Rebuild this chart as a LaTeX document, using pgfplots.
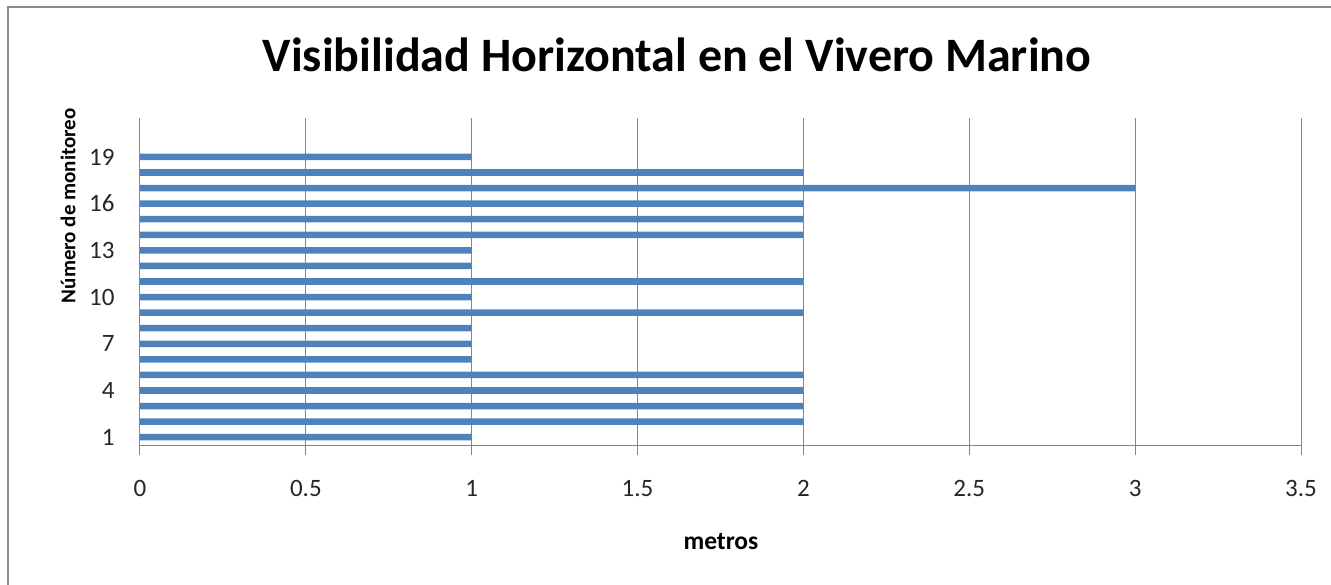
\documentclass[border=0pt]{standalone}
\usepackage{pgfplots}
\pgfplotsset{compat=1.18}
\usepackage{fontspec}
\setmainfont{Carlito}
\definecolor{barblue}{HTML}{4F81BD}
\definecolor{gridgray}{HTML}{868686}
\definecolor{framegray}{HTML}{8C8C8C}
\begin{document}
\begin{tikzpicture}[x=1pt,y=1pt]
\useasboundingbox (0,0) rectangle (1331,-585);
\draw[framegray, line width=2.2pt] (8,-610) -- (8,-7) -- (1350,-7);
\begin{axis}[
  at={(140pt,-445pt)}, anchor=south west,
  width=1161pt, height=327pt, scale only axis,
  xbar, bar width=0.42,
  xmin=0, xmax=3.5, ymin=0.5, ymax=21.5,
  xtick={0,0.5,1,1.5,2,2.5,3,3.5},
  xticklabels={0,0.5,1,1.5,2,2.5,3,3.5},
  ytick={1,4,7,10,13,16,19},
  yticklabels={1,4,7,10,13,16,19},
  axis x line*=bottom, axis y line*=left,
  axis line style={gridgray, line width=1pt, -},
  xmajorgrids, major grid style={gridgray, line width=1pt},
  xtick align=outside, major tick length=10pt,
  x tick style={gridgray, line width=1pt},
  y tick style={draw=none},
  tick label style={font=\fontsize{25}{25}\selectfont, text=black!85},
  xticklabel style={yshift=-22pt},
  yticklabel style={xshift=-12pt},
  xlabel={\textbf{metros}},
  xlabel style={font=\fontsize{25.5}{25.5}\selectfont, at={(axis description cs:0.5004,-0.294)}, anchor=center},
  ylabel={\textbf{Número de monitoreo}},
  ylabel style={font=\fontsize{21}{21}\selectfont, at={(axis description cs:-0.062,0.732)}, anchor=center},
  title={\textbf{Visibilidad Horizontal en el Vivero Marino}},
  title style={font=\fontsize{48}{48}\selectfont, at={(axis description cs:0.4625,1.125)}, anchor=base},
]
\addplot[fill=barblue, draw=none] coordinates {
(1,1) (2,2) (2,3) (2,4) (2,5) (1,6) (1,7) (1,8) (2,9) (1,10)
(2,11) (1,12) (1,13) (2,14) (2,15) (2,16) (3,17) (2,18) (1,19)
};
\end{axis}
\end{tikzpicture}
\end{document}
